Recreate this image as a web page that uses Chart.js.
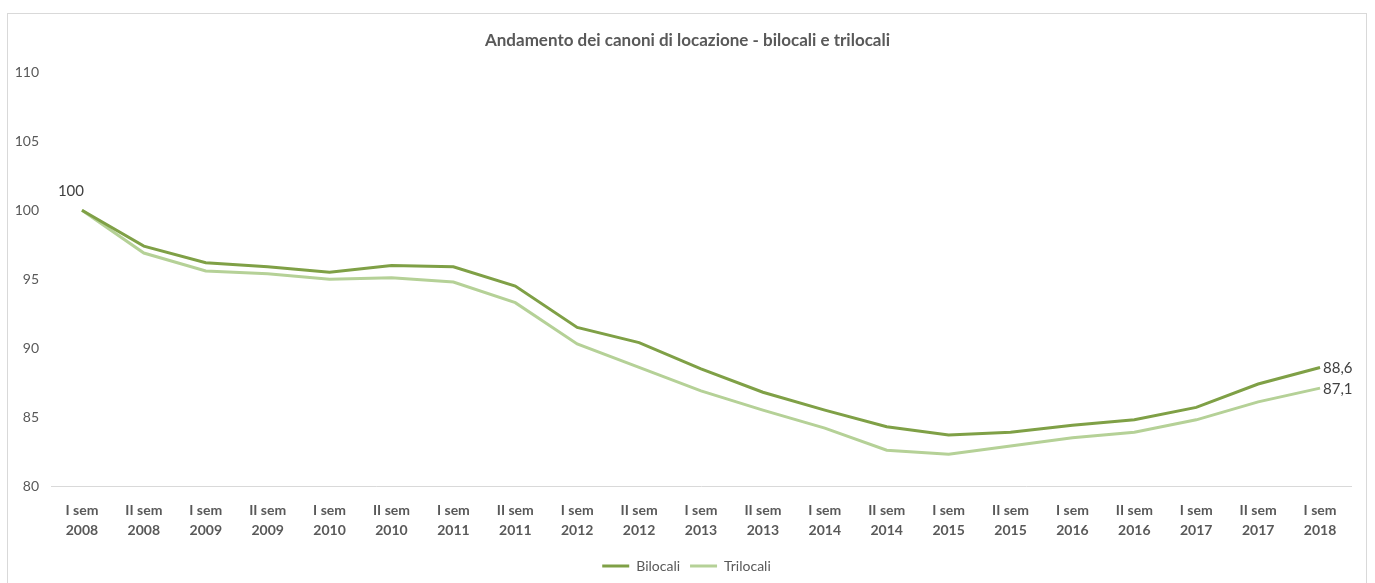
<!DOCTYPE html>
<html>
<head>
<meta charset="utf-8">
<script src="https://cdn.jsdelivr.net/npm/chart.js@4.4.1/dist/chart.umd.min.js"></script>
<style>
  html, body { margin: 0; padding: 0; background: #fff; overflow: hidden; }
  #frame { position: absolute; left: 7px; top: 13px; width: 1358px; height: 575px; border: 1px solid #d9d9d9; }
  #wrap { position: absolute; left: 0; top: 0; width: 1375px; height: 583px; }
</style>
</head>
<body>
<div id="frame"></div>
<div id="wrap"><canvas id="chart" width="1375" height="583"></canvas></div>
<script>
// Dati
const semestri = [
    ['I sem', '2008'], ['II sem', '2008'], ['I sem', '2009'], ['II sem', '2009'],
    ['I sem', '2010'], ['II sem', '2010'], ['I sem', '2011'], ['II sem', '2011'],
    ['I sem', '2012'], ['II sem', '2012'], ['I sem', '2013'], ['II sem', '2013'],
    ['I sem', '2014'], ['II sem', '2014'], ['I sem', '2015'], ['II sem', '2015'],
    ['I sem', '2016'], ['II sem', '2016'], ['I sem', '2017'], ['II sem', '2017'],
    ['I sem', '2018']
];
const bilocali = [100, 97.4, 96.2, 95.9, 95.5, 96.0, 95.9, 94.5, 91.5, 90.4, 88.5, 86.8, 85.5, 84.3, 83.7, 83.9, 84.4, 84.8, 85.7, 87.4, 88.6];
const trilocali = [100, 96.9, 95.6, 95.4, 95.0, 95.1, 94.8, 93.3, 90.3, 88.6, 86.9, 85.5, 84.2, 82.6, 82.3, 82.9, 83.5, 83.9, 84.8, 86.1, 87.1];
const yTicks = [80, 85, 90, 95, 100, 105, 110];

const verdeScuro = '#7fa046';
const verdeChiaro = '#b5d197';
const grigio = '#595959';
const fontBase = 'Lato';

// etichette: 100 sul primo punto, valori finali a destra
const etichette = {
    id: 'etichette',
    afterLayout(chart) {
        // titolo e legenda centrati come nell'originale (un po' più a destra)
        chart.titleBlock.left += 24;
        chart.legend.left += 11;
        chart.legend.right += 11;
    },
    afterDatasetsDraw(chart) {
        const ctx = chart.ctx;
        const x = chart.scales.x;
        const y = chart.scales.y;
        const last = semestri.length - 1;
        ctx.save();
        ctx.font = '15px ' + fontBase;
        ctx.fillStyle = '#404040';
        ctx.textBaseline = 'middle';
        ctx.textAlign = 'center';
        ctx.fillText('100', x.getPixelForValue(0) - 11, y.getPixelForValue(bilocali[0]) - 19);
        ctx.textAlign = 'left';
        ctx.fillText(String(bilocali[last]).replace('.', ','), x.getPixelForValue(last) + 3, y.getPixelForValue(bilocali[last]) + 1);
        ctx.fillText(String(trilocali[last]).replace('.', ','), x.getPixelForValue(last) + 3, y.getPixelForValue(trilocali[last]) + 1);
        ctx.restore();
    }
};

new Chart(document.getElementById('chart'), {
    type: 'line',
    data: {
        labels: semestri,
        datasets: [
            {
                label: 'Bilocali',
                data: bilocali,
                borderColor: verdeScuro,
                backgroundColor: verdeScuro,
                borderWidth: 3,
                pointRadius: 0,
                tension: 0,
            },
            {
                label: 'Trilocali',
                data: trilocali,
                borderColor: verdeChiaro,
                backgroundColor: verdeChiaro,
                borderWidth: 3,
                pointRadius: 0,
                tension: 0,
            },
        ],
    },
    options: {
        responsive: false,
        animation: false,
        layout: { padding: { left: 0, right: 24, top: 0, bottom: 0 } },
        plugins: {
            title: {
                display: true,
                text: 'Andamento dei canoni di locazione - bilocali e trilocali',
                color: grigio,
                font: { family: fontBase, size: 17, weight: 'bold' },
                padding: { top: 30, bottom: 22 },
            },
            legend: {
                position: 'bottom',
                labels: {
                    color: grigio,
                    font: { family: fontBase, size: 14 },
                    boxWidth: 27,
                    boxHeight: 3,
                    padding: 10,
                    generateLabels(chart) {
                        const items = Chart.defaults.plugins.legend.labels.generateLabels(chart);
                        items.forEach(it => { it.lineWidth = 0; });
                        return items;
                    },
                },
            },
            tooltip: { enabled: false },
        },
        scales: {
            x: {
                offset: true,
                grid: { display: false, drawTicks: false },
                border: { color: '#d9d9d9', width: 1 },
                ticks: {
                    color: grigio,
                    font: { family: fontBase, size: 14, weight: 'bold', lineHeight: 1.45 },
                    padding: 14,
                    maxRotation: 0,
                    autoSkip: false,
                },
                afterFit(scale) { scale.height = 63; },
            },
            y: {
                min: 80,
                max: 110,
                grid: { display: false, drawTicks: false },
                border: { display: false },
                afterBuildTicks(scale) { scale.ticks = yTicks.map(v => ({ value: v })); },
                ticks: {
                    color: grigio,
                    font: { family: fontBase, size: 14 },
                    padding: 12,
                },
                afterFit(scale) { scale.width = 51; },
            },
        },
    },
    plugins: [etichette],
});
</script>
</body>
</html>
